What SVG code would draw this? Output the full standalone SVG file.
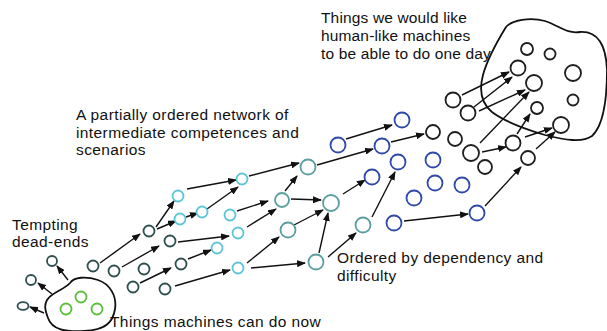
<svg xmlns="http://www.w3.org/2000/svg" width="607" height="331" viewBox="0 0 607 331">
  <style>
    text { font-family: "Liberation Sans", Arial, sans-serif; font-size: 15.5px; letter-spacing: 0.4px; fill: #111; }
    text.top { letter-spacing: 0.15px; }
    .n { fill: #fff; stroke-width: 1.8; }
    .dk { stroke: #2f4f4f; }
    .gr { stroke: #5cbf3a; }
    .lt { stroke: #5cc6d8; }
    .md { stroke: #5a9e9e; }
    .bl { stroke: #2d48a8; }
    .bk { stroke: #1e1e1e; }
    .blob { fill: none; stroke: #111; stroke-width: 1.8; }
    #connectors line { stroke: #111; stroke-width: 1.4; marker-end: url(#ah); }
  </style>
  <defs>
    <marker id="ah" markerUnits="userSpaceOnUse" markerWidth="9" markerHeight="7" refX="8" refY="3.5" orient="auto">
      <path d="M0,0 L9,3.5 L0,7 z" fill="#111"/>
    </marker>
  </defs>
  <rect width="607" height="331" fill="#fff"/>

  <!-- region boundaries -->
  <path id="now-region" class="blob" d="M47,300 C52,292 64,290 70,283 C74,277 86,276 98,280 C110,284 117,296 115,309 C113,322 106,330 84,331 C66,332 52,330 48,318 C45,310 44,305 47,300 Z"/>
  <path id="future-region" class="blob" d="M506,27 C512,20 530,17 545,21 C560,26 566,34 580,32 C598,31 606,45 607,70 C607,100 604,125 592,136 C582,143 565,140 545,135 C525,129 505,122 492,112 C481,103 479,90 483,75 C487,60 495,45 506,27"/>

  <!-- connectors -->
  <g id="connectors">
    <line x1="68" y1="280" x2="57" y2="266"/>
    <line x1="52" y1="294" x2="38" y2="283"/>
    <line x1="44" y1="313" x2="30" y2="307"/>
    <line x1="100" y1="263" x2="140" y2="234"/>
    <line x1="122" y1="267" x2="159" y2="246"/>
    <line x1="140" y1="283" x2="171" y2="268"/>
    <line x1="175" y1="286" x2="230" y2="270"/>
    <line x1="178" y1="242" x2="229" y2="236"/>
    <line x1="188" y1="259" x2="211" y2="250"/>
    <line x1="156" y1="227" x2="174" y2="201"/>
    <line x1="157" y1="229" x2="176" y2="221"/>
    <line x1="186" y1="217" x2="198" y2="213"/>
    <line x1="187" y1="189" x2="236" y2="180"/>
    <line x1="207" y1="209" x2="238" y2="187"/>
    <line x1="249" y1="176" x2="299" y2="163"/>
    <line x1="237" y1="211" x2="268" y2="201"/>
    <line x1="247" y1="227" x2="276" y2="209"/>
    <line x1="247" y1="263" x2="279" y2="237"/>
    <line x1="251" y1="268" x2="305" y2="263"/>
    <line x1="285" y1="191" x2="297" y2="176"/>
    <line x1="291" y1="199" x2="321" y2="200"/>
    <line x1="294" y1="225" x2="323" y2="210"/>
    <line x1="319" y1="253" x2="328" y2="213"/>
    <line x1="328" y1="257" x2="356" y2="233"/>
    <line x1="343" y1="194" x2="365" y2="180"/>
    <line x1="372" y1="217" x2="395" y2="172"/>
    <line x1="317" y1="165" x2="373" y2="149"/>
    <line x1="346" y1="139" x2="392" y2="125"/>
    <line x1="391" y1="142" x2="424" y2="134"/>
    <line x1="404" y1="221" x2="468" y2="214"/>
    <line x1="485" y1="206" x2="521" y2="167"/>
    <line x1="462" y1="95" x2="509" y2="72"/>
    <line x1="474" y1="107" x2="512" y2="77"/>
    <line x1="479" y1="111" x2="525" y2="90"/>
    <line x1="480" y1="143" x2="529" y2="92"/>
    <line x1="482" y1="152" x2="506" y2="147"/>
    <line x1="517" y1="134" x2="530" y2="114"/>
    <line x1="525" y1="137" x2="552" y2="128"/>
    <line x1="536" y1="149" x2="555" y2="132"/>
  </g>

  <!-- things machines can do now -->
  <g id="n-now"><circle class="n gr" cx="81" cy="297" r="5.5"/><circle class="n gr" cx="66" cy="309" r="5.5"/><circle class="n gr" cx="97" cy="309" r="5.5"/></g>

  <!-- dead ends -->
  <g id="n-dead1"><circle class="n dk" cx="52" cy="261" r="5"/></g>
  <g id="n-dead2"><circle class="n dk" cx="31" cy="280" r="5"/></g>
  <g id="n-dead3"><ellipse class="n dk" cx="23" cy="306" rx="5.5" ry="3.8"/></g>

  <!-- early competences -->
  <g id="n-d1"><circle class="n dk" cx="93" cy="266" r="5.5"/></g>
  <g id="n-d2"><circle class="n dk" cx="114" cy="271" r="5.5"/></g>
  <g id="n-d3"><circle class="n dk" cx="144" cy="269" r="5.5"/></g>
  <g id="n-d4"><circle class="n dk" cx="133" cy="287" r="5.5"/></g>
  <g id="n-d5"><circle class="n dk" cx="165" cy="289" r="5.5"/></g>
  <g id="n-d6"><circle class="n dk" cx="149" cy="231" r="5.5"/></g>
  <g id="n-d7"><circle class="n dk" cx="170" cy="241" r="5.5"/></g>
  <g id="n-d8"><circle class="n dk" cx="181" cy="264" r="5.5"/></g>

  <g id="n-l1"><circle class="n lt" cx="178" cy="196" r="5.5"/></g>
  <g id="n-l2"><circle class="n lt" cx="180" cy="219" r="5.5"/></g>
  <g id="n-l3"><circle class="n lt" cx="202" cy="212" r="5.5"/></g>
  <g id="n-l4"><circle class="n lt" cx="242" cy="179" r="5.5"/></g>
  <g id="n-l5"><circle class="n lt" cx="230" cy="215" r="5.5"/></g>
  <g id="n-l6"><circle class="n lt" cx="238" cy="233" r="5.5"/></g>
  <g id="n-l7"><circle class="n lt" cx="217" cy="248" r="5.5"/></g>
  <g id="n-l8"><circle class="n lt" cx="238" cy="268" r="5.5"/></g>

  <g id="n-m1"><circle class="n md" cx="308" cy="167" r="7.5"/></g>
  <g id="n-m2"><circle class="n md" cx="282" cy="200" r="7"/></g>
  <g id="n-m3"><circle class="n md" cx="331" cy="203" r="8"/></g>
  <g id="n-m4"><circle class="n md" cx="288" cy="230" r="7.5"/></g>
  <g id="n-m5"><circle class="n md" cx="316" cy="262" r="7.5"/></g>
  <g id="n-m6"><circle class="n md" cx="363" cy="225" r="7.5"/></g>

  <g id="n-b1"><circle class="n bl" cx="338" cy="145" r="7.5"/></g>
  <g id="n-b2"><circle class="n bl" cx="402" cy="120" r="7.5"/></g>
  <g id="n-b3"><circle class="n bl" cx="382" cy="146" r="7.5"/></g>
  <g id="n-b4"><circle class="n bl" cx="398" cy="162" r="7.5"/></g>
  <g id="n-b5"><circle class="n bl" cx="372" cy="177" r="7.5"/></g>
  <g id="n-b6"><circle class="n bl" cx="433" cy="160" r="7.5"/></g>
  <g id="n-b7"><circle class="n bl" cx="435" cy="183" r="7.5"/></g>
  <g id="n-b8"><circle class="n bl" cx="462" cy="185" r="7.5"/></g>
  <g id="n-b9"><circle class="n bl" cx="414" cy="198" r="7.5"/></g>
  <g id="n-b10"><circle class="n bl" cx="394" cy="223" r="7.5"/></g>
  <g id="n-b11"><circle class="n bl" cx="477" cy="213" r="7.5"/></g>

  <!-- advanced competences -->
  <g id="n-k1"><circle class="n bk" cx="433" cy="132" r="7"/></g>
  <g id="n-k2"><circle class="n bk" cx="455" cy="139" r="7"/></g>
  <g id="n-k3"><circle class="n bk" cx="471" cy="153" r="8"/></g>
  <g id="n-k4"><circle class="n bk" cx="485" cy="167" r="7"/></g>
  <g id="n-k5"><circle class="n bk" cx="453" cy="100" r="7.5"/></g>
  <g id="n-k6"><circle class="n bk" cx="468" cy="113" r="7.5"/></g>
  <g id="n-k7"><circle class="n bk" cx="513" cy="143" r="7.5"/></g>
  <g id="n-k8"><circle class="n bk" cx="528" cy="158" r="7"/></g>

  <!-- long-term goals -->
  <g id="n-g1"><circle class="n bk" cx="527" cy="49" r="6"/></g>
  <g id="n-g2"><circle class="n bk" cx="550" cy="54" r="5.5"/></g>
  <g id="n-g3"><circle class="n bk" cx="518" cy="68" r="7.5"/></g>
  <g id="n-g4"><circle class="n bk" cx="534" cy="83" r="8"/></g>
  <g id="n-g5"><circle class="n bk" cx="573" cy="73" r="8"/></g>
  <g id="n-g6"><circle class="n bk" cx="537" cy="108" r="6"/></g>
  <g id="n-g7"><circle class="n bk" cx="573" cy="100" r="5.5"/></g>
  <g id="n-g8"><circle class="n bk" cx="561" cy="125" r="8"/></g>

  <!-- labels -->
  <text class="top" x="321" y="23">Things we would like</text>
  <text class="top" x="321" y="41">human-like machines</text>
  <text class="top" x="321" y="59">to be able to do one day</text>
  <text x="76" y="120">A partially ordered network of</text>
  <text x="76" y="138">intermediate competences and</text>
  <text x="76" y="155">scenarios</text>
  <text x="12" y="230">Tempting</text>
  <text x="12" y="247">dead-ends</text>
  <text x="337" y="263">Ordered by dependency and</text>
  <text x="337" y="281">difficulty</text>
  <text x="110" y="327">Things machines can do now</text>
</svg>
